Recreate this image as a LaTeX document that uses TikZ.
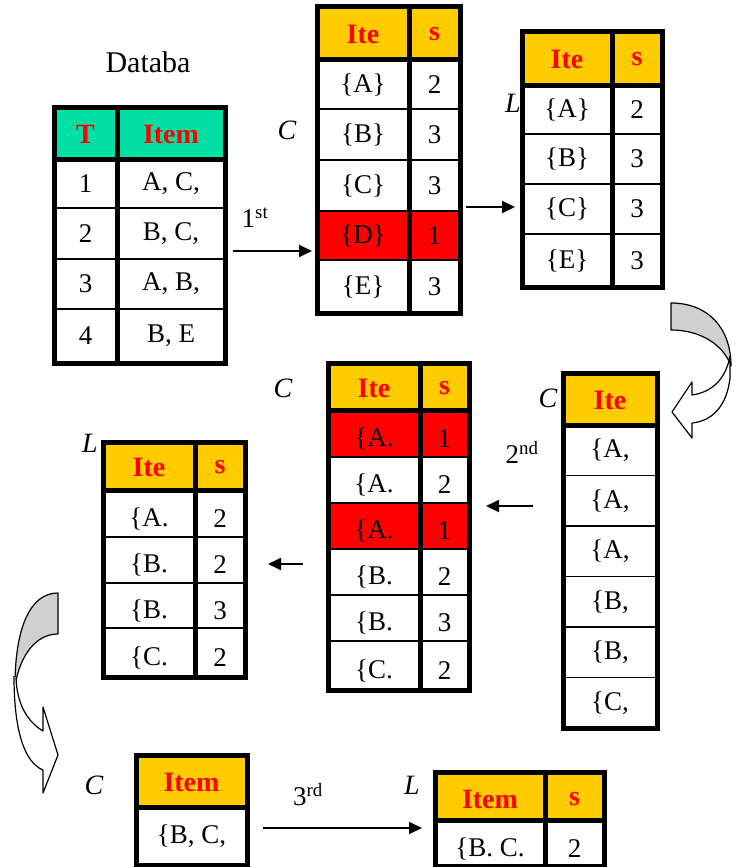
\documentclass[tikz,border=0pt]{standalone}
\usepackage{fontspec}
\setmainfont{Liberation Serif}
\usepackage{tikz}
\usetikzlibrary{arrows.meta}

\definecolor{hdryellow}{RGB}{255,204,0}
\definecolor{hdrgreen}{RGB}{0,224,165}
\definecolor{rowred}{RGB}{255,0,0}
\definecolor{bandgray}{RGB}{208,208,208}

\tikzset{
  tabframe/.style={line width=5pt},
  rowline/.style={line width=1.5pt},
  hdr/.style={text=red, font=\fontsize{28}{30}\selectfont\bfseries},
  cell/.style={font=\fontsize{27}{30}\selectfont},
  lbl/.style={font=\fontsize{28}{30}\selectfont\itshape},
  passtxt/.style={font=\fontsize{27}{30}\selectfont},
  arr/.style={line width=1.8pt, -{Triangle[length=13pt, width=12pt]}},
  band/.style={draw=black, line width=1.2pt, line join=round},
}

\begin{document}
\begin{tikzpicture}[x=1pt, y=-1pt]

\useasboundingbox (0,0) rectangle (740,867);

% draw database table
\fill[hdrgreen] (54,107) rectangle (225,159);
\foreach \y in {208,259,309} \draw[rowline] (54,\y) -- (225,\y);
\draw[tabframe] (54,107) rectangle (225,363);
\draw[tabframe] (117,107) -- (117,363);
\draw[tabframe] (54,159) -- (225,159);
\node[passtxt, font=\fontsize{30}{32}\selectfont] (dbtitle) at (148,62) {Databa};
\node[hdr] (dbT) at (85.5,134) {T};
\node[hdr] (dbI) at (171,134) {Item};
\foreach \t/\i/\y in {1/{A, C,}/183.5, 2/{B, C,}/233.5, 3/{A, B,}/284, 4/{B, E}/336}{
  \node[cell] (dbt\t) at (85.5,\y) {\t};
  \node[cell] (dbi\t) at (171,\y) {\i};
}

% draw first candidate table
\fill[hdryellow] (317,7) rectangle (460,60);
\fill[rowred] (317,211) rectangle (460,260);
\foreach \y in {109,160,211,260} \draw[rowline] (317,\y) -- (460,\y);
\draw[tabframe] (317,7) rectangle (460,313);
\draw[tabframe] (409,7) -- (409,313);
\draw[tabframe] (317,60) -- (460,60);
\node[lbl] (cone) at (287,130) {C};
\node[hdr] (conei) at (363,34.5) {Ite};
\node[hdr] (cones) at (434.5,34.5) {s};
\foreach \a/\s/\y in {A/2/84.5, B/3/134.5, C/3/185.5, D/1/235.5, E/3/286.5}{
  \node[cell] (conei\a) at (363,\y) {\{\a\}};
  \node[cell] (cones\a) at (434.5,\y) {\s};
}

% draw first large table
\fill[hdryellow] (522,32) rectangle (662,85);
\foreach \y in {134,184,234} \draw[rowline] (522,\y) -- (662,\y);
\draw[tabframe] (522,32) rectangle (662,287);
\draw[tabframe] (612,32) -- (612,287);
\draw[tabframe] (522,85) -- (662,85);
\node[lbl] (lone) at (513,103) {L};
\node[hdr] (lonei) at (567,59.5) {Ite};
\node[hdr] (lones) at (637,59.5) {s};
\foreach \a/\s/\y in {A/2/109.5, B/3/159, C/3/209, E/3/260.5}{
  \node[cell] (lonei\a) at (567,\y) {\{\a\}};
  \node[cell] (lones\a) at (637,\y) {\s};
}

% draw second candidate list
\fill[hdryellow] (563,373) rectangle (657,425);
\foreach \y in {475.5,526,576.5,627,677.5} \draw[rowline] (563,\y) -- (657,\y);
\draw[tabframe] (563,373) rectangle (657,728);
\draw[tabframe] (563,425) -- (657,425);
\node[lbl] (ctwol) at (548,398) {C};
\node[hdr] (ctwoli) at (610,400) {Ite};
\foreach \a/\y [count=\r] in {A/450, A/501, A/551.5, B/602, B/652.5, C/703}
  \node[cell] (ctwol\r) at (610,\y) {\{\a,};

% draw second candidate table with counts
\fill[hdryellow] (328,363) rectangle (469,410);
\fill[rowred] (328,410) rectangle (469,457);
\fill[rowred] (328,503) rectangle (469,549);
\foreach \y in {457,503,549,595,641} \draw[rowline] (328,\y) -- (469,\y);
\draw[tabframe] (328,363) rectangle (469,690);
\draw[tabframe] (420,363) -- (420,690);
\draw[tabframe] (328,410) -- (469,410);
\node[lbl] (ctwo) at (283,388) {C};
\node[hdr] (ctwoi) at (374,388) {Ite};
\node[hdr] (ctwos) at (444.5,388) {s};
\foreach \a/\s/\y [count=\r] in {A/1/433.5, A/2/480, A/1/526, B/2/572, B/3/618, C/2/665.5}{
  \node[cell] (ctwoi\r) at (374,\y+5) {\{\a.};
  \node[cell] (ctwos\r) at (444.5,\y+5) {\s};
}

% draw second large table
\fill[hdryellow] (103,442) rectangle (245,490);
\foreach \y in {537,583,628} \draw[rowline] (103,\y) -- (245,\y);
\draw[tabframe] (103,442) rectangle (245,677);
\draw[tabframe] (195,442) -- (195,677);
\draw[tabframe] (103,490) -- (245,490);
\node[lbl] (ltwo) at (90,443) {L};
\node[hdr] (ltwoi) at (149,467) {Ite};
\node[hdr] (ltwos) at (220,467) {s};
\foreach \a/\s/\y [count=\r] in {A/2/513.5, B/2/560, B/3/605.5, C/2/652.5}{
  \node[cell] (ltwoi\r) at (149,\y+5) {\{\a.};
  \node[cell] (ltwos\r) at (220,\y+5) {\s};
}

% draw third candidate table
\fill[hdryellow] (136,755) rectangle (247,807);
\draw[tabframe] (136,755) rectangle (247,865);
\draw[tabframe] (136,807) -- (247,807);
\node[lbl] (cthree) at (94,785) {C};
\node[hdr] (cthreei) at (191.5,782) {Item};
\node[cell] (cthreer) at (191.5,836) {\{B, C,};

% draw third large table
\fill[hdryellow] (435,772) rectangle (604,820);
\draw[tabframe] (435,772) rectangle (604,866);
\draw[tabframe] (545,772) -- (545,866);
\draw[tabframe] (435,820) -- (604,820);
\node[lbl] (lthree) at (412,785) {L};
\node[hdr] (lthreei) at (490,799) {Item};
\node[hdr] (lthrees) at (574.5,799) {s};
\node[cell] (lthreer) at (490,849) {\{B. C.};
\node[cell] (lthreec) at (574.5,849) {2};

% draw passes
\coordinate (pa) at (233,251);
\coordinate (pb) at (312,251);
\coordinate (pc) at (466,207);
\coordinate (pd) at (515,207);
\coordinate (pe) at (533,506);
\coordinate (pf) at (486,506);
\coordinate (pg) at (303,564);
\coordinate (ph) at (268,564);
\coordinate (pi) at (263,828);
\coordinate (pj) at (422,828);
\draw[arr] (pa) -- (pb);
\draw[arr] (pc) -- (pd);
\draw[arr] (pe) -- (pf);
\draw[arr] (pg) -- (ph);
\draw[arr] (pi) -- (pj);
\node[passtxt] (first) at (255,218) {1\textsuperscript{st}};
\node[passtxt] (second) at (522,452) {2\textsuperscript{nd}};
\node[passtxt] (third) at (308,795) {3\textsuperscript{rd}};

% draw curved arrows
\filldraw[band, fill=bandgray] (671,303) .. controls (708,303) and (731,328) .. (731,366)
                             .. controls (724,346) and (702,330) .. (671,330) -- cycle;
\filldraw[band, fill=white] (730,356) -- (730,378) .. controls (727,405) and (713,421) .. (692,423)
                             -- (692,438) -- (672,412) -- (692,382) -- (692,395)
                             .. controls (713,392) and (726,378) .. (730,356);

\filldraw[band, fill=bandgray] (58,593) .. controls (30,593) and (15,628) .. (15,686)
                             .. controls (20,655) and (36,634) .. (58,634) -- cycle;
\filldraw[band, fill=white] (14,676) .. controls (14,730) and (24,762) .. (43,770)
                             -- (43,793) -- (58,755) -- (43,707) -- (43,731)
                             .. controls (28,722) and (17,705) .. (16,678);

\end{tikzpicture}
\end{document}
